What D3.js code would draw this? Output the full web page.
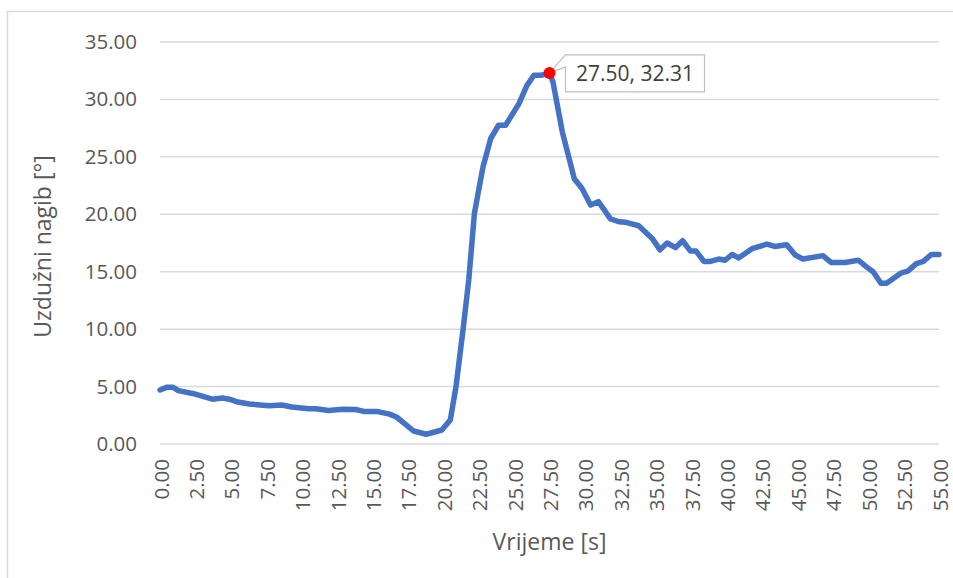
<!DOCTYPE html>
<html>
<head>
<meta charset="utf-8">
<script src="https://cdn.jsdelivr.net/npm/d3@7"></script>
<style>
  html, body { margin: 0; padding: 0; background: #fff; }
  svg { display: block; font-family: "Open Sans", "Noto Sans", sans-serif; }
</style>
</head>
<body>
<svg id="chart" width="953" height="578"></svg>
<script>
// Time samples [s] and longitudinal slope [°]
const time = [0, 0.5, 0.9, 1.3, 2.3, 3.7, 4.4, 4.9, 5.5, 6.3, 7.7, 8.6, 9.3, 10.5, 11.0, 11.9, 12.9, 13.8,
  14.4, 15.3, 16.2, 16.7, 17.4, 17.9, 18.8, 19.9, 20.5, 20.9, 21.4, 21.8, 22.2, 22.8, 23.35, 23.9, 24.4,
  25.35, 25.9, 26.4, 26.9, 27.5, 27.75, 28.4, 29.25, 29.8, 30.4, 30.95, 31.3, 31.8, 32.4, 32.9, 33.8,
  34.75, 35.3, 35.8, 36.4, 36.9, 37.45, 37.85, 38.4, 38.85, 39.45, 39.9, 40.4, 40.85, 41.8, 42.85, 43.4,
  44.25, 44.85, 45.4, 46.8, 47.4, 48.35, 49.3, 49.9, 50.35, 50.9, 51.3, 52.35, 52.8, 53.4, 53.9, 54.45,
  54.9, 55.0];
const slope = [4.7, 4.95, 4.95, 4.65, 4.4, 3.9, 4.0, 3.9, 3.65, 3.48, 3.34, 3.39, 3.22, 3.07, 3.07, 2.92,
  3.02, 3.0, 2.84, 2.84, 2.6, 2.35, 1.65, 1.13, 0.85, 1.22, 2.1, 5.0, 10.0, 14.3, 20.1, 24.1, 26.6, 27.75,
  27.75, 29.65, 31.2, 32.1, 32.1, 32.31, 31.5, 27.2, 23.1, 22.25, 20.8, 21.1, 20.5, 19.6, 19.35, 19.3,
  19.0, 17.9, 16.9, 17.5, 17.1, 17.7, 16.8, 16.8, 15.9, 15.9, 16.1, 16.0, 16.5, 16.2, 17.0, 17.4, 17.2,
  17.35, 16.45, 16.1, 16.4, 15.8, 15.8, 16.0, 15.4, 15.0, 14.0, 14.0, 14.9, 15.05, 15.7, 15.9, 16.5,
  16.5, 16.5];

const xTicks = [0, 2.5, 5, 7.5, 10, 12.5, 15, 17.5, 20, 22.5, 25, 27.5, 30, 32.5, 35, 37.5, 40, 42.5,
  45, 47.5, 50, 52.5, 55];
const yTicks = [0, 5, 10, 15, 20, 25, 30, 35];
const highlightIndex = 39; // labelled sample

const xTitle = "Vrijeme [s]";
const yTitle = "Uzdužni nagib [°]";

const svg = d3.select("#chart");
const textColor = "#595959";

// Chart area frame
svg.append("rect")
  .attr("x", 7.5).attr("y", 11.5)
  .attr("width", 1000).attr("height", 700)
  .attr("fill", "#fff").attr("stroke", "#d9d9d9").attr("stroke-width", 1.5);

const x = d3.scaleLinear().domain([0, 55]).range([160, 939]);
const y = d3.scaleLinear().domain([0, 35]).range([444, 42]);

// Horizontal gridlines
svg.append("g").selectAll("line").data(yTicks).join("line")
  .attr("x1", x(0)).attr("x2", x(55))
  .attr("y1", d => y(d)).attr("y2", d => y(d))
  .attr("stroke", "#d9d9d9").attr("stroke-width", 1.5);

// Y axis labels
const yAxis = d3.axisLeft(y).tickValues(yTicks).tickFormat(d3.format(".2f")).tickSize(0).tickPadding(0);
const yg = svg.append("g").attr("transform", "translate(137,0)").call(yAxis);
yg.select(".domain").remove();
yg.selectAll("text").attr("fill", textColor).style("font-size", "20.5px")
  .style("font-family", "'Open Sans', sans-serif");

// X axis labels (rotated)
const xAxis = d3.axisBottom(x).tickValues(xTicks).tickFormat(d3.format(".2f")).tickSize(0);
const xg = svg.append("g").attr("transform", "translate(0,444)").call(xAxis);
xg.select(".domain").remove();
xg.selectAll("text")
  .attr("fill", textColor).style("font-size", "20.5px")
  .style("font-family", "'Open Sans', sans-serif")
  .attr("text-anchor", "end")
  .attr("dy", null)
  .attr("y", 0)
  .attr("dominant-baseline", "central")
  .attr("transform", "translate(0,15) rotate(-90)");

// Axis titles
svg.append("text")
  .attr("x", x(27.5)).attr("y", 541)
  .attr("text-anchor", "middle")
  .attr("dominant-baseline", "central")
  .attr("fill", textColor).style("font-size", "23px")
  .text(xTitle);

svg.append("text")
  .attr("transform", `translate(42,${y(17.2)}) rotate(-90)`)
  .attr("text-anchor", "middle")
  .attr("dominant-baseline", "central")
  .attr("fill", textColor).style("font-size", "23px")
  .text(yTitle);

// Data line
const pts = time.map((t, i) => [t, slope[i]]);
const line = d3.line().x(d => x(d[0])).y(d => y(d[1]));
svg.append("path")
  .datum(pts)
  .attr("d", line)
  .attr("fill", "none")
  .attr("stroke", "#4472C4")
  .attr("stroke-width", 5.5)
  .attr("stroke-linejoin", "round")
  .attr("stroke-linecap", "round");

// Highlighted sample with callout
const hp = pts[highlightIndex];
const px = x(hp[0]), py = y(hp[1]);
const labelText = `${hp[0].toFixed(2)}, ${hp[1].toFixed(2)}`;

const bx = px + 16, by = py - 18, bw = 139, bh = 37;
svg.append("path")
  .attr("d", `M${bx},${by} L${bx + bw},${by} L${bx + bw},${by + bh} L${bx},${by + bh} L${bx},${by + 12} L${px},${py} L${bx},${by} Z`)
  .attr("fill", "#fff")
  .attr("stroke", "#bfbfbf")
  .attr("stroke-width", 1.2);

svg.append("text")
  .attr("x", bx + bw / 2).attr("y", by + bh / 2)
  .attr("text-anchor", "middle")
  .attr("dominant-baseline", "central")
  .attr("fill", "#404040").style("font-size", "21px")
  .text(labelText);

svg.append("circle")
  .attr("cx", px).attr("cy", py).attr("r", 6)
  .attr("fill", "#ff0000");
</script>
</body>
</html>
